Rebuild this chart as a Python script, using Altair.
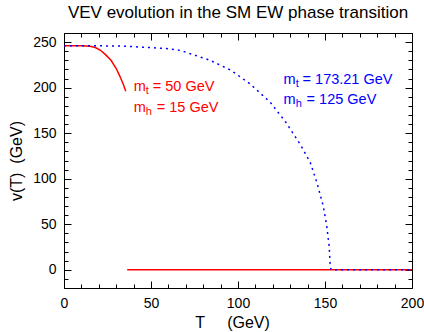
import altair as alt
import pandas as pd

# Red: light top / light Higgs (m_t = 50 GeV, m_h = 15 GeV)
red_T = [0, 10, 15, 18, 21, 24, 27, 30, 32, 34, 35.5]
red_v = [246, 246, 245.5, 244, 241, 236, 230, 221, 213, 204, 196]
red_flat_T = [36.3, 200]
red_flat_v = [0, 0]

# Blue: SM (m_t = 173.21 GeV, m_h = 125 GeV)
blue_T = [0, 20, 35, 44, 55, 61, 67, 73, 84, 96, 107, 118.5, 127.5, 136, 141.5,
          145.3, 149, 151, 152.4, 153, 153.5, 200]
blue_v = [246, 246, 245.5, 244.5, 243.4, 242.5, 240.8, 237, 230, 219, 204, 184, 162,
          137, 118, 96, 70, 48, 26, 4, 0, 0]

# Annotations
label_T = [40.1, 40.1, 126.2, 126.2]
label_v = [195.8, 173.5, 204, 182]
label_sub = ["t", "h", "t", "h"]
label_rest = ["= 50 GeV", "= 15 GeV", "= 173.21 GeV", "= 125 GeV"]
label_series = ["light", "light", "sm", "sm"]

x_major = [0, 50, 100, 150, 200]
x_minor = [10, 20, 30, 40, 60, 70, 80, 90, 110, 120, 130, 140, 160, 170, 180, 190]
y_major = [0, 50, 100, 150, 200, 250]
y_minor = [-20, -10, 10, 20, 30, 40, 60, 70, 80, 90, 110, 120, 130, 140, 160, 170,
           180, 190, 210, 220, 230, 240, 260]

FONT = "Liberation Sans"


def ax(orient, values, size, labels=False, title=None, pad=0, tpad=0, **extra):
    kw = dict(orient=orient, values=values, tickSize=size, offset=-size, domain=False,
              grid=False, labels=labels, tickColor="black", tickWidth=1, title=title)
    if labels:
        kw.update(labelFont=FONT, labelFontSize=14, labelColor="black",
                  labelPadding=pad, format="d", labelFlush=False, labelOverlap=False)
    if title:
        kw.update(titleFont=FONT, titleFontSize=16, titleFontWeight="normal",
                  titleColor="black", titlePadding=tpad)
    kw.update(extra)
    return alt.Axis(**kw)


xs = alt.Scale(domain=[0, 200], nice=False, zero=False)
ys = alt.Scale(domain=[-20, 260], nice=False, zero=False)

red_df = pd.DataFrame({"T": red_T, "v": red_v})
red_flat_df = pd.DataFrame({"T": red_flat_T, "v": red_flat_v})
blue_df = pd.DataFrame({"T": blue_T, "v": blue_v})
lab_df = pd.DataFrame({"T": label_T, "v": label_v, "sub": label_sub,
                       "rest": label_rest, "series": label_series})

color = alt.Color("series:N", scale=alt.Scale(domain=["light", "sm"],
                                              range=["#ff0000", "#0000ff"]), legend=None)

l1 = alt.Chart(red_df).mark_line(color="#ff0000", strokeWidth=1.5).encode(
    x=alt.X("T:Q", scale=xs,
            axis=ax("bottom", x_major, 7, True,
                    "T\u00a0\u00a0\u00a0\u00a0\u00a0(GeV)", 8, 4,
                    titleX=168, titleAlign="center")),
    y=alt.Y("v:Q", scale=ys,
            axis=ax("left", y_major, 7, True, "v(T)\u00a0\u00a0(GeV)", 8, 8)),
)
l2 = alt.Chart(red_flat_df).mark_line(color="#ff0000", strokeWidth=1.5).encode(
    x=alt.X("T:Q", scale=xs, axis=ax("bottom", x_minor, 4)),
    y=alt.Y("v:Q", scale=ys, axis=ax("left", y_minor, 4)),
)
l3 = alt.Chart(blue_df).mark_line(color="#0000ff", strokeWidth=1.5, strokeDash=[2, 4]).encode(
    x=alt.X("T:Q", scale=xs, axis=ax("top", x_major, 7)),
    y=alt.Y("v:Q", scale=ys, axis=ax("right", y_major, 7)),
)
l4 = alt.Chart(lab_df).mark_text(text="m", align="left", baseline="alphabetic",
                                 font=FONT, fontSize=14.5).encode(
    x=alt.X("T:Q", scale=xs, axis=ax("top", x_minor, 4)),
    y=alt.Y("v:Q", scale=ys, axis=ax("right", y_minor, 4)),
    color=color,
)
l5 = alt.Chart(lab_df).mark_text(align="left", baseline="alphabetic", font=FONT,
                                 fontSize=11, dx=12.1, dy=3).encode(
    x=alt.X("T:Q", scale=xs, axis=None),
    y=alt.Y("v:Q", scale=ys, axis=None),
    text="sub:N",
    color=color,
)
l6 = alt.Chart(lab_df).transform_filter(alt.datum.sub == "t").mark_text(
    align="left", baseline="alphabetic", font=FONT, fontSize=14.5, dx=19).encode(
    x=alt.X("T:Q", scale=xs, axis=None),
    y=alt.Y("v:Q", scale=ys, axis=None),
    text="rest:N",
    color=color,
)
l7 = alt.Chart(lab_df).transform_filter(alt.datum.sub == "h").mark_text(
    align="left", baseline="alphabetic", font=FONT, fontSize=14.5, dx=23).encode(
    x=alt.X("T:Q", scale=xs, axis=None),
    y=alt.Y("v:Q", scale=ys, axis=None),
    text="rest:N",
    color=color,
)

chart = alt.layer(
    l1, l2, l3, l4, l5, l6, l7,
    title=alt.TitleParams("VEV evolution in the SM EW phase transition", font=FONT,
                          fontSize=17, fontWeight="normal", color="black",
                          baseline="alphabetic", offset=-2.5),
).resolve_axis(x="independent", y="independent").properties(
    width=348, height=255,
    autosize=alt.AutoSizeParams(type="none"),
    padding={"left": 64, "top": 33, "right": 12, "bottom": 44},
).configure_view(stroke="black", strokeWidth=1)

chart.save("out.html", embed_options={"renderer": "svg", "actions": False})
